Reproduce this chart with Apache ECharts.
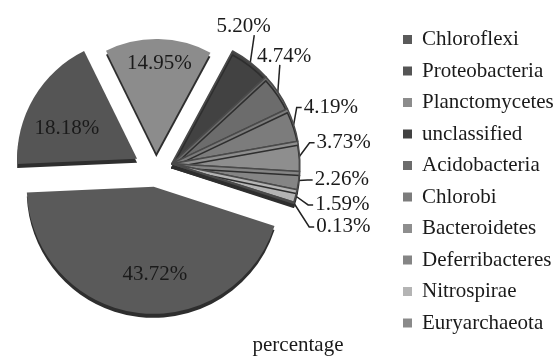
<!DOCTYPE html>
<html>
<head>
<meta charset="utf-8">
<script src="https://cdn.jsdelivr.net/npm/echarts@6/dist/echarts.min.js"></script>
<style>
  html, body { margin: 0; padding: 0; background: #fff; }
  #chart { width: 556px; height: 357px; }
</style>
</head>
<body>
<div id="chart"></div>
<script>
// Phylum composition (percentage of sequences)
const phyla = ['Chloroflexi', 'Proteobacteria', 'Planctomycetes', 'unclassified', 'Acidobacteria',
               'Chlorobi', 'Bacteroidetes', 'Deferribacteres', 'Nitrospirae', 'Euryarchaeota'];
const percentages = [43.72, 18.18, 14.95, 5.20, 4.74, 4.19, 3.73, 2.26, 1.59, 0.13];
const sliceColors = ['#5a5a5a', '#555555', '#8c8c8c', '#424242', '#6c6c6c',
                     '#7c7c7c', '#8e8e8e', '#858585', '#b4b4b4', '#8a8a8a'];
const axisTitle = 'percentage';

// Slices pulled out of the pie together, with how far and how large each piece is drawn
const groups = [[0], [1], [2], [3, 4, 5, 6, 7, 8, 9]];
const groupPull = [17, 22, 17, 17];
const groupRadius = [127, 120, 114, 128];
// nudges for the value labels (inner labels per group, outer labels per slice)
const innerLabelShift = [[10, 22], [-16, 2], [2, -30]];
const outerLabelShift = {3: [-53, -28], 4: [-39, -30], 5: [-8, -14], 6: [-1, -13], 7: [-3, -2], 8: [-2, 0], 9: [0, -1]};
// labels that sit above the end of their leader line instead of beside it
const labelAbove = {3: 4, 4: 2};

const pieCenter = [156, 170];
const startAngle = -18;
const total = percentages.reduce((a, b) => a + b, 0);

const font = 'Liberation Serif, Times New Roman, serif';

function groupCenter(g) {
  const idx = groups[g];
  const before = percentages.slice(0, idx[0]).reduce((a, b) => a + b, 0);
  const span = idx.reduce((a, i) => a + percentages[i], 0);
  const mid = (startAngle - (before + span / 2) / total * 360) * Math.PI / 180;
  return [pieCenter[0] + groupPull[g] * Math.cos(mid), pieCenter[1] - groupPull[g] * Math.sin(mid)];
}

function outerLayout(params) {
  const i = params.dataIndex;
  const s = outerLabelShift[i] || [0, 0];
  const r = params.labelRect;
  const nx = r.x + s[0], ny = r.y + s[1];
  const out = { dx: s[0], dy: s[1] };
  if (params.labelLinePoints) {
    const start = params.labelLinePoints[0];
    if (labelAbove[i] !== undefined) {
      out.labelLinePoints = [start, [start[0] + labelAbove[i], ny + r.height - 2]];
    } else {
      const mid = ny + r.height / 2;
      out.labelLinePoints = [start, [nx - 7, mid], [nx - 2, mid]];
    }
  }
  return out;
}

const series = groups.map((members, g) => {
  const outside = members.length > 1;
  return {
    type: 'pie',
    center: groupCenter(g),
    radius: groupRadius[g],
    startAngle: startAngle,
    clockwise: true,
    animation: false,
    emphasis: { disabled: true },
    label: {
      position: outside ? 'outside' : 'inside',
      formatter: p => p.value.toFixed(2) + '%',
      fontFamily: font,
      fontSize: 21,
      color: '#1a1a1a'
    },
    labelLine: {
      length: 10,
      length2: 8,
      lineStyle: { color: '#222', width: 1.5 }
    },
    labelLayout: outside ? outerLayout : () => ({ dx: innerLabelShift[g][0], dy: innerLabelShift[g][1] }),
    data: phyla.map((name, i) => {
      const shown = members.indexOf(i) >= 0;
      return {
        name: name,
        value: percentages[i],
        itemStyle: shown ? {
          color: sliceColors[i],
          borderColor: outside ? '#4a4a4a' : sliceColors[i],
          borderWidth: outside ? 1.5 : 0,
          shadowColor: '#2e2e2e',
          shadowOffsetY: 4,
          shadowBlur: 0
        } : { color: 'rgba(0,0,0,0)' },
        label: { show: shown },
        labelLine: { show: shown && outside }
      };
    })
  };
});

const chart = echarts.init(document.getElementById('chart'));
chart.setOption({
  backgroundColor: '#fff',
  title: {
    text: axisTitle,
    left: 293,
    top: 330,
    textAlign: 'center',
    textStyle: { fontFamily: font, fontSize: 21, fontWeight: 'normal', color: '#1a1a1a' }
  },
  legend: {
    orient: 'vertical',
    left: 398,
    top: 24,
    icon: 'rect',
    itemWidth: 9,
    itemHeight: 9,
    itemGap: 10.5,
    selectedMode: false,
    textStyle: { fontFamily: font, fontSize: 21, lineHeight: 21, color: '#1a1a1a', padding: [0, 0, 0, 5] },
    data: phyla.map((name, i) => ({ name: name, itemStyle: { color: sliceColors[i] } }))
  },
  series: series
});
</script>
</body>
</html>
